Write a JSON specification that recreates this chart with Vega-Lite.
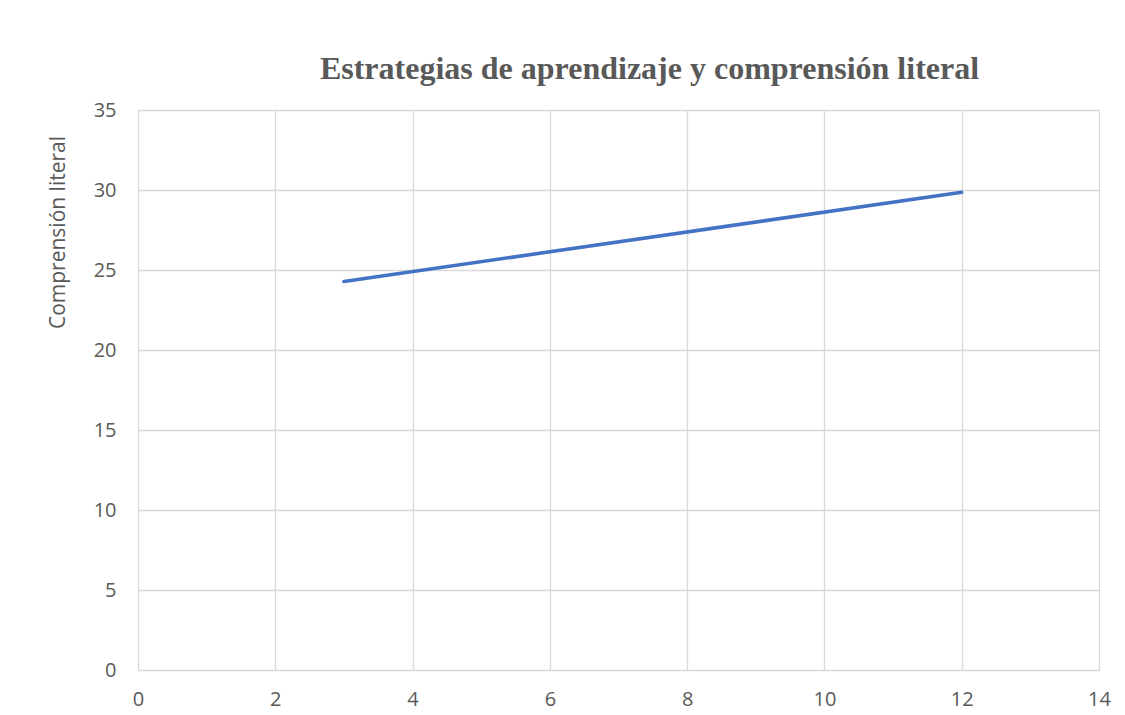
{
  "$schema": "https://vega.github.io/schema/vega-lite/v6.json",
  "autosize": "none",
  "width": 961,
  "height": 560,
  "padding": {"left": 138, "top": 110, "right": 26, "bottom": 45},
  "background": "white",
  "title": {
    "text": "Estrategias de aprendizaje y comprensión literal",
    "font": "Liberation Serif",
    "fontSize": 32,
    "fontWeight": "bold",
    "color": "#595959",
    "anchor": "middle",
    "dx": 31,
    "offset": 14
  },
  "data": {
    "values": [
      {"x": 3, "y": 24.28},
      {"x": 12, "y": 29.86}
    ]
  },
  "mark": {"type": "line", "color": "#4472C4", "strokeWidth": 3.6, "strokeCap": "round"},
  "encoding": {
    "x": {
      "field": "x",
      "type": "quantitative",
      "scale": {"domain": [0, 14], "nice": false},
      "axis": {
        "title": null,
        "values": [0, 2, 4, 6, 8, 10, 12, 14],
        "grid": true,
        "gridColor": "#D9D9D9",
        "gridWidth": 1.3,
        "domain": false,
        "ticks": false,
        "labelFlush": false,
        "labelPadding": 19,
        "labelFont": "Open Sans",
        "labelFontSize": 20,
        "labelColor": "#595959"
      }
    },
    "y": {
      "field": "y",
      "type": "quantitative",
      "scale": {"domain": [0, 35], "nice": false},
      "axis": {
        "title": "Comprensión literal",
        "values": [0, 5, 10, 15, 20, 25, 30, 35],
        "grid": true,
        "gridColor": "#D9D9D9",
        "gridWidth": 1.3,
        "domain": false,
        "ticks": false,
        "labelFlush": false,
        "labelPadding": 22,
        "labelFont": "Open Sans",
        "labelFontSize": 20,
        "labelColor": "#595959",
        "titleFont": "Open Sans",
        "titleFontSize": 21,
        "titleFontWeight": "normal",
        "titleColor": "#595959",
        "titleAngle": -90,
        "titleX": -80,
        "titleY": 122,
        "titleAlign": "center",
        "titleBaseline": "middle"
      }
    }
  },
  "config": {
    "view": {"stroke": null}
  }
}
